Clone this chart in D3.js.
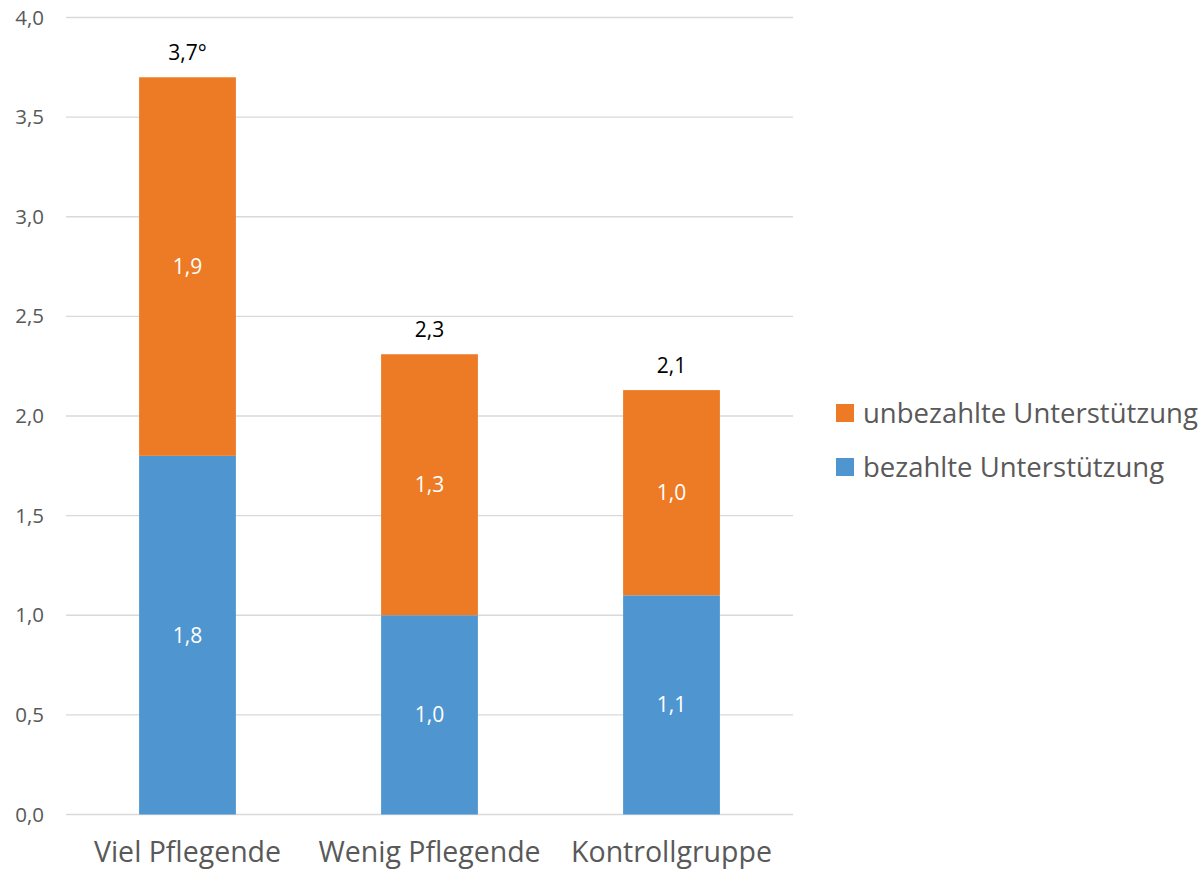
<!DOCTYPE html>
<html><head><meta charset="utf-8">
<script src="https://cdn.jsdelivr.net/npm/d3@7"></script>
<style>body{margin:0;background:#fff}svg{display:block}</style>
</head><body>
<svg id="chart" width="1203" height="870"></svg>
<script>
const categories = ["Viel Pflegende", "Wenig Pflegende", "Kontrollgruppe"];
const bezahlt = [1.8, 1.0, 1.1];
const unbezahlt = [1.9, 1.31, 1.03];
const bezahltLabels = ["1,8", "1,0", "1,1"];
const unbezahltLabels = ["1,9", "1,3", "1,0"];
const totalLabels = ["3,7°", "2,3", "2,1"];
const yTicks = [0, 0.5, 1, 1.5, 2, 2.5, 3, 3.5, 4];
const seriesNames = ["unbezahlte Unterstützung", "bezahlte Unterstützung"];
const colors = {bezahlt: "#4f96d0", unbezahlt: "#ed7b25"};

const svg = d3.select("#chart");
const font = "'Open Sans', sans-serif";
const x = d3.scaleBand().domain(categories).range([66.5, 792.5]).paddingInner(0.6).paddingOuter(0.3);
const y = d3.scaleLinear().domain([0, 4]).range([814.5, 17.5]);

// gridlines
svg.append("g").selectAll("line").data(yTicks).join("line")
  .attr("x1", 66).attr("x2", 793)
  .attr("y1", d => y(d)).attr("y2", d => y(d))
  .attr("stroke", "#d9d9d9").attr("stroke-width", 1.3);

// y axis labels
const yAxis = d3.axisLeft(y).tickValues(yTicks).tickSize(0).tickPadding(0)
  .tickFormat(d => d3.format(".1f")(d).replace(".", ","));
const ga = svg.append("g").attr("transform", "translate(44,0)").call(yAxis);
ga.select(".domain").remove();
ga.selectAll("text").attr("font-family", font).attr("font-size", 20.5).attr("fill", "#595959");

// x axis labels
const xAxis = d3.axisBottom(x).tickSize(0).tickPadding(0);
const gx = svg.append("g").attr("transform", "translate(0,842)").call(xAxis);
gx.select(".domain").remove();
gx.selectAll("text").attr("font-family", font).attr("font-size", 28.5).attr("fill", "#595959");

const bw = x.bandwidth();
// blue bars
svg.append("g").selectAll("rect").data(categories).join("rect")
  .attr("x", d => x(d)).attr("width", bw)
  .attr("y", (d, i) => y(bezahlt[i])).attr("height", (d, i) => y(0) - y(bezahlt[i]))
  .attr("fill", colors.bezahlt);
// orange bars
svg.append("g").selectAll("rect").data(categories).join("rect")
  .attr("x", d => x(d)).attr("width", bw)
  .attr("y", (d, i) => y(bezahlt[i] + unbezahlt[i]))
  .attr("height", (d, i) => y(bezahlt[i]) - y(bezahlt[i] + unbezahlt[i]))
  .attr("fill", colors.unbezahlt);

// inner labels
svg.append("g").selectAll("text").data(categories).join("text")
  .attr("x", d => x(d) + bw / 2).attr("y", (d, i) => (y(0) + y(bezahlt[i])) / 2)
  .attr("dy", "0.35em").attr("text-anchor", "middle")
  .attr("font-family", font).attr("font-size", 21).attr("fill", "#fff")
  .text((d, i) => bezahltLabels[i]);
svg.append("g").selectAll("text").data(categories).join("text")
  .attr("x", d => x(d) + bw / 2).attr("y", (d, i) => (y(bezahlt[i]) + y(bezahlt[i] + unbezahlt[i])) / 2)
  .attr("dy", "0.35em").attr("text-anchor", "middle")
  .attr("font-family", font).attr("font-size", 21).attr("fill", "#fff")
  .text((d, i) => unbezahltLabels[i]);
// totals
svg.append("g").selectAll("text").data(categories).join("text")
  .attr("x", d => x(d) + bw / 2).attr("y", (d, i) => y(bezahlt[i] + unbezahlt[i]) - 17)
  .attr("text-anchor", "middle")
  .attr("font-family", font).attr("font-size", 21).attr("fill", "#000")
  .text((d, i) => totalLabels[i]);

// legend
const legendColors = [colors.unbezahlt, colors.bezahlt];
const lg = svg.append("g").attr("transform", "translate(836,404)");
const items = lg.selectAll("g").data(seriesNames).join("g")
  .attr("transform", (d, i) => `translate(0,${i * 54})`);
items.append("rect").attr("width", 18).attr("height", 18).attr("fill", (d, i) => legendColors[i]);
items.append("text").attr("x", 27).attr("y", 9).attr("dy", "0.35em")
  .attr("font-family", font).attr("font-size", 27.5).attr("fill", "#595959")
  .text(d => d);
</script>
</body></html>
